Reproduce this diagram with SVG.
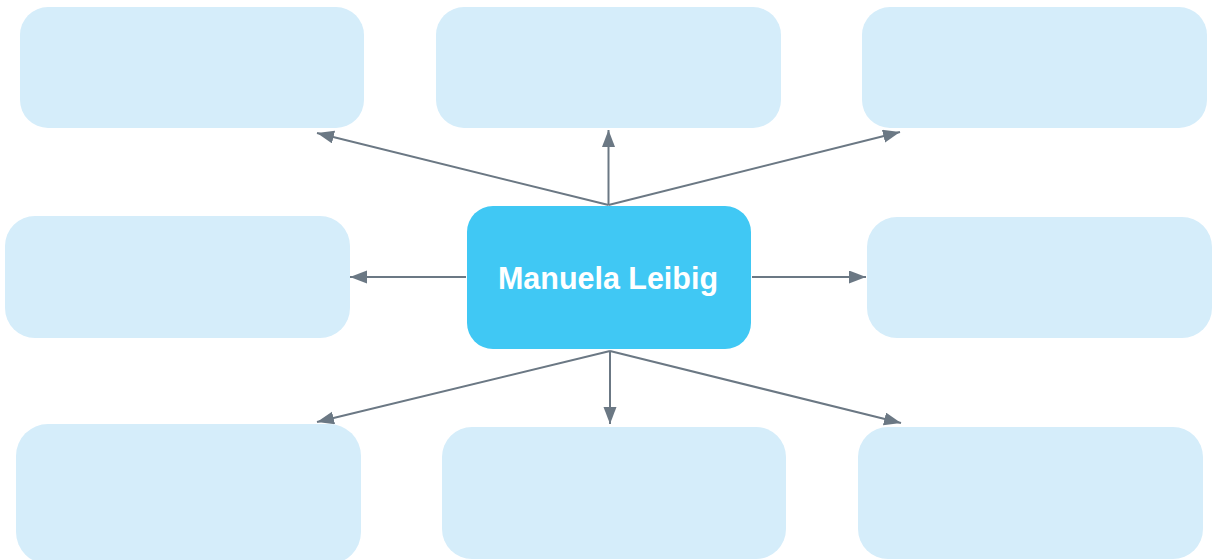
<svg xmlns="http://www.w3.org/2000/svg" width="1212" height="560" viewBox="0 0 1212 560">
  <style>
    .box { fill: #d5edfa; }
    .center { fill: #40c8f4; }
    .conn { stroke: #6b7884; stroke-width: 2; fill: none; marker-end: url(#arrow); }
    .label { font-family: "Liberation Sans", Arial, sans-serif; font-weight: bold; font-size: 32px; fill: #ffffff; }
  </style>
  <defs>
    <marker id="arrow" markerUnits="userSpaceOnUse" markerWidth="18" markerHeight="14" refX="17" refY="6.5" orient="auto">
      <path d="M0,0 L17,6.5 L0,13 z" fill="#6b7884"/>
    </marker>
  </defs>
  <rect width="1212" height="560" fill="#ffffff"/>
  <g id="node-tl"><rect class="box" x="20" y="7" width="344" height="121" rx="28"/></g>
  <g id="node-tc"><rect class="box" x="436" y="7" width="345" height="121" rx="28"/></g>
  <g id="node-tr"><rect class="box" x="862" y="7" width="345" height="121" rx="28"/></g>
  <g id="node-ml"><rect class="box" x="5" y="216" width="345" height="122" rx="30"/></g>
  <g id="node-mr"><rect class="box" x="867" y="217" width="345" height="121" rx="30"/></g>
  <g id="node-bl"><rect class="box" x="16" y="424" width="345" height="140" rx="32"/></g>
  <g id="node-bc"><rect class="box" x="442" y="427" width="344" height="132" rx="30"/></g>
  <g id="node-br"><rect class="box" x="858" y="427" width="345" height="132" rx="30"/></g>
  <g id="node-center">
    <rect class="center" x="467" y="206" width="284" height="143" rx="26"/>
    <text class="label" x="608" y="289" text-anchor="middle" textLength="220" lengthAdjust="spacingAndGlyphs">Manuela Leibig</text>
  </g>
  <g id="connectors">
    <line class="conn" x1="608.5" y1="205" x2="317" y2="133"/>
    <line class="conn" x1="608.5" y1="205" x2="608.5" y2="130"/>
    <line class="conn" x1="608.5" y1="205" x2="900" y2="132"/>
    <line class="conn" x1="466" y1="277" x2="350" y2="277"/>
    <line class="conn" x1="752" y1="277" x2="866" y2="277"/>
    <line class="conn" x1="610" y1="351" x2="317" y2="422"/>
    <line class="conn" x1="610" y1="351" x2="610" y2="424"/>
    <line class="conn" x1="610" y1="351" x2="901" y2="423"/>
  </g>
</svg>
